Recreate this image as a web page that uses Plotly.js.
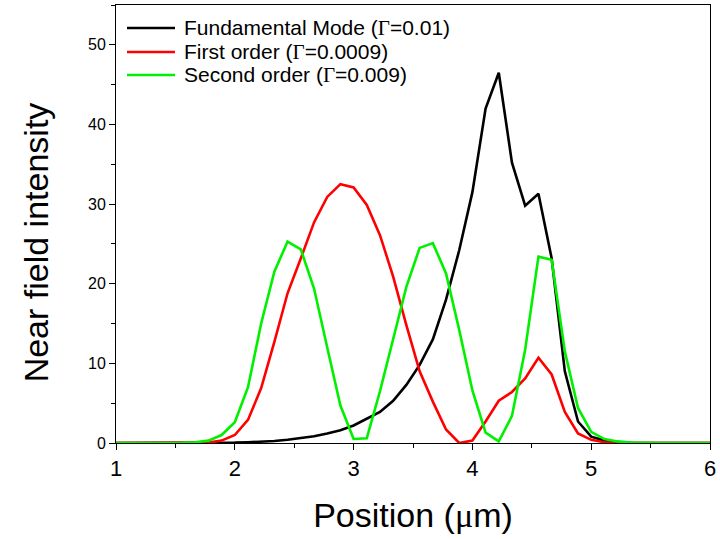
<!DOCTYPE html>
<html>
<head>
<meta charset="utf-8">
<script src="https://cdn.plot.ly/plotly-3.0.1.min.js"></script>
<style>html,body{margin:0;padding:0;background:#fff;}#chart{width:720px;height:539px;}</style>
</head>
<body>
<div id="chart"></div>
<script>
// Position (μm) sample grid
const position = [1.000,1.111,1.222,1.333,1.444,1.556,1.667,1.778,1.889,2.000,
  2.111,2.222,2.333,2.444,2.556,2.667,2.778,2.889,3.000,3.111,
  3.222,3.333,3.444,3.556,3.667,3.778,3.889,4.000,4.111,4.222,
  4.333,4.444,4.556,4.667,4.778,4.889,5.000,5.111,5.222,5.333,
  5.444,5.556,5.667,5.778,5.889,6.000];

const fundamental = [0,0,0,0,0,0,0,0,0.02,0.05,
  0.1,0.15,0.25,0.4,0.6,0.85,1.2,1.6,2.2,3.0,
  3.9,5.3,7.3,9.8,13.0,18.0,24.2,31.5,42.0,46.5,
  35.2,29.8,31.3,23.2,9.0,2.7,0.8,0.3,0.1,0.03,
  0,0,0,0,0,0];

const firstOrder = [0,0,0,0,0,0,0,0.05,0.3,1.0,
  2.9,6.9,12.7,18.8,23.2,27.7,30.9,32.5,32.1,29.9,
  26.1,20.9,14.8,9.0,5.2,1.7,0.0,0.3,2.7,5.3,
  6.4,8.1,10.7,8.6,3.9,1.2,0.4,0.1,0,0,
  0,0,0,0,0,0];

const secondOrder = [0,0,0,0,0,0.02,0.1,0.3,1.0,2.6,
  7.0,15.0,21.5,25.3,24.3,19.4,12.0,4.7,0.5,0.6,
  6.5,13.0,19.6,24.5,25.1,21.3,14.2,6.6,1.3,0.2,
  3.4,11.7,23.4,23.0,11.5,4.4,1.4,0.5,0.2,0.05,
  0,0,0,0,0,0];

const G = '<span style="font-family:\'Liberation Serif\'">Γ</span>';
const seriesNames = [
  'Fundamental Mode (' + G + '=0.01)',
  'First order (' + G + '=0.0009)',
  'Second order (' + G + '=0.009)'
];
const seriesColors = ['#000000', '#ff0000', '#00f000'];
const seriesData = [fundamental, firstOrder, secondOrder];

const traces = seriesData.map((y, i) => ({
  x: position, y: y, type: 'scatter', mode: 'lines',
  name: seriesNames[i], showlegend: false,
  line: {color: seriesColors[i], width: 2.6}
}));

// legend drawn as paper-anchored samples + labels
const legendRowsY = [0.9475, 0.8927, 0.8402];
const shapes = legendRowsY.map((yy, i) => ({
  type: 'line', xref: 'paper', yref: 'paper',
  x0: 0.0185, x1: 0.0993, y0: yy, y1: yy,
  line: {color: seriesColors[i], width: 2.6}
}));
const annotations = legendRowsY.map((yy, i) => ({
  xref: 'paper', yref: 'paper', x: 0.111, y: yy,
  xanchor: 'left', yanchor: 'middle', showarrow: false,
  text: seriesNames[i],
  font: {family: 'Liberation Sans, Arial, sans-serif', size: 21, color: '#000'}
}));
annotations.push({
  xref: 'paper', yref: 'paper', x: -0.134, y: 0.459,
  xanchor: 'center', yanchor: 'middle', showarrow: false, textangle: -90,
  text: 'Near field intensity',
  font: {family: 'Liberation Sans, Arial, sans-serif', size: 34, color: '#000'}
});

const layout = {
  width: 720, height: 539,
  margin: {l: 116, r: 10, t: 5, b: 96},
  paper_bgcolor: '#fff', plot_bgcolor: '#fff',
  font: {family: 'Liberation Sans, Arial, sans-serif', color: '#000'},
  showlegend: false,
  shapes: shapes,
  annotations: annotations,
  xaxis: {
    range: [1, 6], tickmode: 'linear', tick0: 1, dtick: 1,
    ticks: 'outside', ticklen: 6, tickwidth: 1, tickcolor: '#000',
    minor: {ticks: 'outside', dtick: 0.5, ticklen: 4, tickcolor: '#000', showgrid: false},
    showline: true, linecolor: '#000', linewidth: 1, mirror: true,
    showgrid: false, zeroline: false,
    tickfont: {family: 'Liberation Sans, Arial, sans-serif', size: 22, color: '#000'},
    title: {text: 'Position (<span style="font-family:\'Liberation Serif\'">μ</span>m)',
      font: {family: 'Liberation Sans, Arial, sans-serif', size: 34, color: '#000'}, standoff: 22}
  },
  yaxis: {
    range: [0, 55], tickmode: 'linear', tick0: 0, dtick: 10,
    ticks: 'outside', ticklen: 6, tickwidth: 1, tickcolor: '#000',
    minor: {ticks: 'outside', dtick: 5, ticklen: 4, tickcolor: '#000', showgrid: false},
    showline: true, linecolor: '#000', linewidth: 1, mirror: true,
    showgrid: false, zeroline: false,
    tickfont: {family: 'Liberation Sans, Arial, sans-serif', size: 16, color: '#000'}
  }
};

Plotly.newPlot('chart', traces, layout, {displayModeBar: false, staticPlot: true});
</script>
</body>
</html>
